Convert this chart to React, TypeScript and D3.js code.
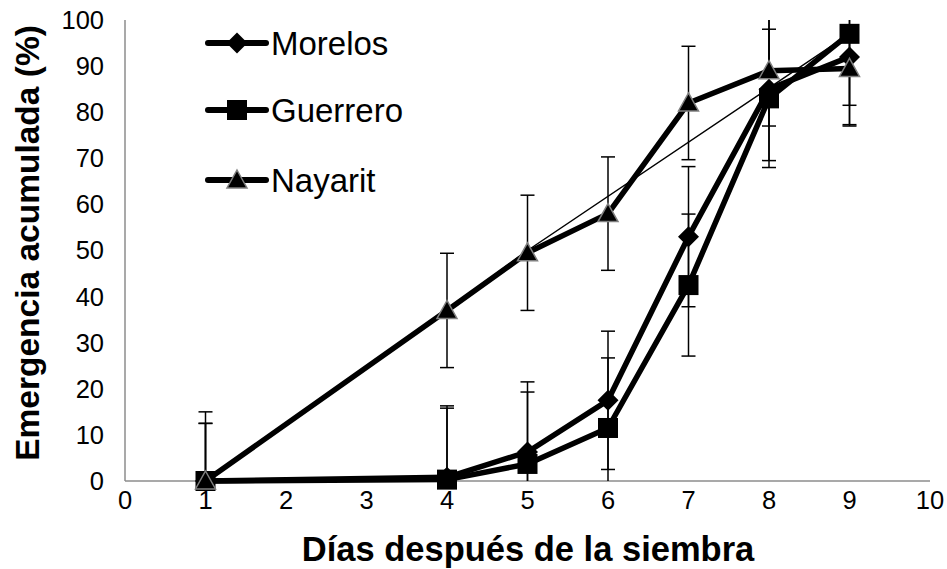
import { useEffect, useRef } from 'react'
import * as d3 from 'd3'

// days after sowing
const days = [1, 4, 5, 6, 7, 8, 9]

// accumulated emergence (%)
const morelos = [0, 0.8, 6.3, 17.5, 53, 85, 92]
const guerrero = [0, 0.3, 3.7, 11.5, 42.5, 83, 97]
const nayarit = [0, 37, 49.5, 58, 82, 89, 89.5]

// error bar half-widths
const morelosErr = [12.5, 15.5, 15.2, 15, 15.2, 15.5, 15]
const guerreroErr = [12.5, 15.5, 15.6, 15.2, 15.4, 15, 19.7]
const nayaritErr = [15, 12.4, 12.5, 12.3, 12.3, 12, 8]

// thin reference line
const thinDays = [1, 4, 5, 9]
const thinValues = [0, 37, 50, 97]

const xTicks = [0, 1, 2, 3, 4, 5, 6, 7, 8, 9, 10]
const yTicks = [0, 10, 20, 30, 40, 50, 60, 70, 80, 90, 100]

const FONT = "'Liberation Sans', Arial, sans-serif"

const App = () => {
  const svgRef = useRef(null)

  useEffect(() => {
    const svg = d3.select(svgRef.current)
    svg.selectAll('*').remove()

    const x = d3.scaleLinear().domain([0, 10]).range([125, 930])
    const y = d3.scaleLinear().domain([0, 100]).range([481, 20])

    const series = [
      { name: 'Morelos', values: morelos, err: morelosErr, marker: 'diamond' },
      { name: 'Guerrero', values: guerrero, err: guerreroErr, marker: 'square' },
      { name: 'Nayarit', values: nayarit, err: nayaritErr, marker: 'triangle' },
    ]

    // axes lines (gray, no ticks)
    svg.append('line')
      .attr('x1', x(0)).attr('x2', x(0))
      .attr('y1', y(100)).attr('y2', y(0))
      .attr('stroke', '#8c8c8c').attr('stroke-width', 1.5)
    svg.append('line')
      .attr('x1', x(0)).attr('x2', x(10))
      .attr('y1', y(0)).attr('y2', y(0))
      .attr('stroke', '#8c8c8c').attr('stroke-width', 1.5)

    // tick labels
    svg.append('g').selectAll('text')
      .data(yTicks).enter().append('text')
      .attr('x', 104).attr('y', (d) => y(d))
      .attr('dy', '0.35em')
      .attr('text-anchor', 'end')
      .style('font-family', FONT).style('font-size', '25.5px')
      .text((d) => d)
    svg.append('g').selectAll('text')
      .data(xTicks).enter().append('text')
      .attr('x', (d) => x(d)).attr('y', 509)
      .attr('text-anchor', 'middle')
      .style('font-family', FONT).style('font-size', '25.5px')
      .text((d) => d)

    // axis titles
    svg.append('text')
      .attr('transform', `translate(39, 243) rotate(-90)`)
      .attr('text-anchor', 'middle')
      .style('font-family', FONT).style('font-size', '33.5px').style('font-weight', 'bold')
      .text('Emergencia acumulada (%)')
    svg.append('text')
      .attr('x', 528).attr('y', 561)
      .attr('text-anchor', 'middle')
      .style('font-family', FONT).style('font-size', '34.5px').style('font-weight', 'bold')
      .text('Días después de la siembra')

    const line = d3.line().x((d) => x(d[0])).y((d) => y(d[1]))

    // thick series lines
    series.forEach((s) => {
      svg.append('path')
        .datum(days.map((d, i) => [d, s.values[i]]))
        .attr('d', line)
        .attr('fill', 'none')
        .attr('stroke', '#000')
        .attr('stroke-width', 5.5)
        .attr('stroke-linejoin', 'round')
    })

    // thin line
    svg.append('path')
      .datum(thinDays.map((d, i) => [d, thinValues[i]]))
      .attr('d', line)
      .attr('fill', 'none')
      .attr('stroke', '#000')
      .attr('stroke-width', 1.5)

    // error bars, clipped to the plot area
    const capW = 7
    series.forEach((s) => {
      days.forEach((d, i) => {
        const hi = s.values[i] + s.err[i]
        const lo = s.values[i] - s.err[i]
        const cx = x(d)
        svg.append('line')
          .attr('x1', cx).attr('x2', cx)
          .attr('y1', y(Math.min(hi, 100))).attr('y2', y(Math.max(lo, 0)))
          .attr('stroke', '#000').attr('stroke-width', 1.5)
        if (hi <= 100) {
          svg.append('line')
            .attr('x1', cx - capW).attr('x2', cx + capW)
            .attr('y1', y(hi)).attr('y2', y(hi))
            .attr('stroke', '#000').attr('stroke-width', 1.5)
        }
        if (lo >= 0) {
          svg.append('line')
            .attr('x1', cx - capW).attr('x2', cx + capW)
            .attr('y1', y(lo)).attr('y2', y(lo))
            .attr('stroke', '#000').attr('stroke-width', 1.5)
        }
      })
    })

    const drawMarker = (g, kind, cx, cy) => {
      if (kind === 'diamond') {
        g.append('path')
          .attr('d', `M${cx},${cy - 10.5}L${cx + 10.5},${cy}L${cx},${cy + 10.5}L${cx - 10.5},${cy}Z`)
          .attr('fill', '#000')
      } else if (kind === 'square') {
        g.append('rect')
          .attr('x', cx - 10).attr('y', cy - 10)
          .attr('width', 20).attr('height', 20)
          .attr('fill', '#000')
      } else {
        g.append('path')
          .attr('d', `M${cx},${cy - 10}L${cx + 10},${cy + 8}L${cx - 10},${cy + 8}Z`)
          .attr('fill', '#000')
          .attr('stroke', '#7f7f7f')
          .attr('stroke-width', 1.5)
      }
    }

    // markers
    series.forEach((s) => {
      const g = svg.append('g')
      days.forEach((d, i) => drawMarker(g, s.marker, x(d), y(s.values[i])))
    })

    // legend
    const legendY = [43, 110, 180]
    series.forEach((s, i) => {
      const g = svg.append('g')
      g.append('line')
        .attr('x1', 208).attr('x2', 266)
        .attr('y1', legendY[i]).attr('y2', legendY[i])
        .attr('stroke', '#000').attr('stroke-width', 6)
        .attr('stroke-linecap', 'round')
      drawMarker(g, s.marker, 237, legendY[i])
      g.append('text')
        .attr('x', 271).attr('y', legendY[i])
        .attr('dy', '0.36em')
        .style('font-family', FONT).style('font-size', '33px')
        .text(s.name)
    })
  }, [])

  return (
    <svg
      ref={svgRef}
      width='947'
      height='569'
      style={{ position: 'absolute', left: 0, top: 0, background: '#fff' }}
    />
  )
}

export default App
